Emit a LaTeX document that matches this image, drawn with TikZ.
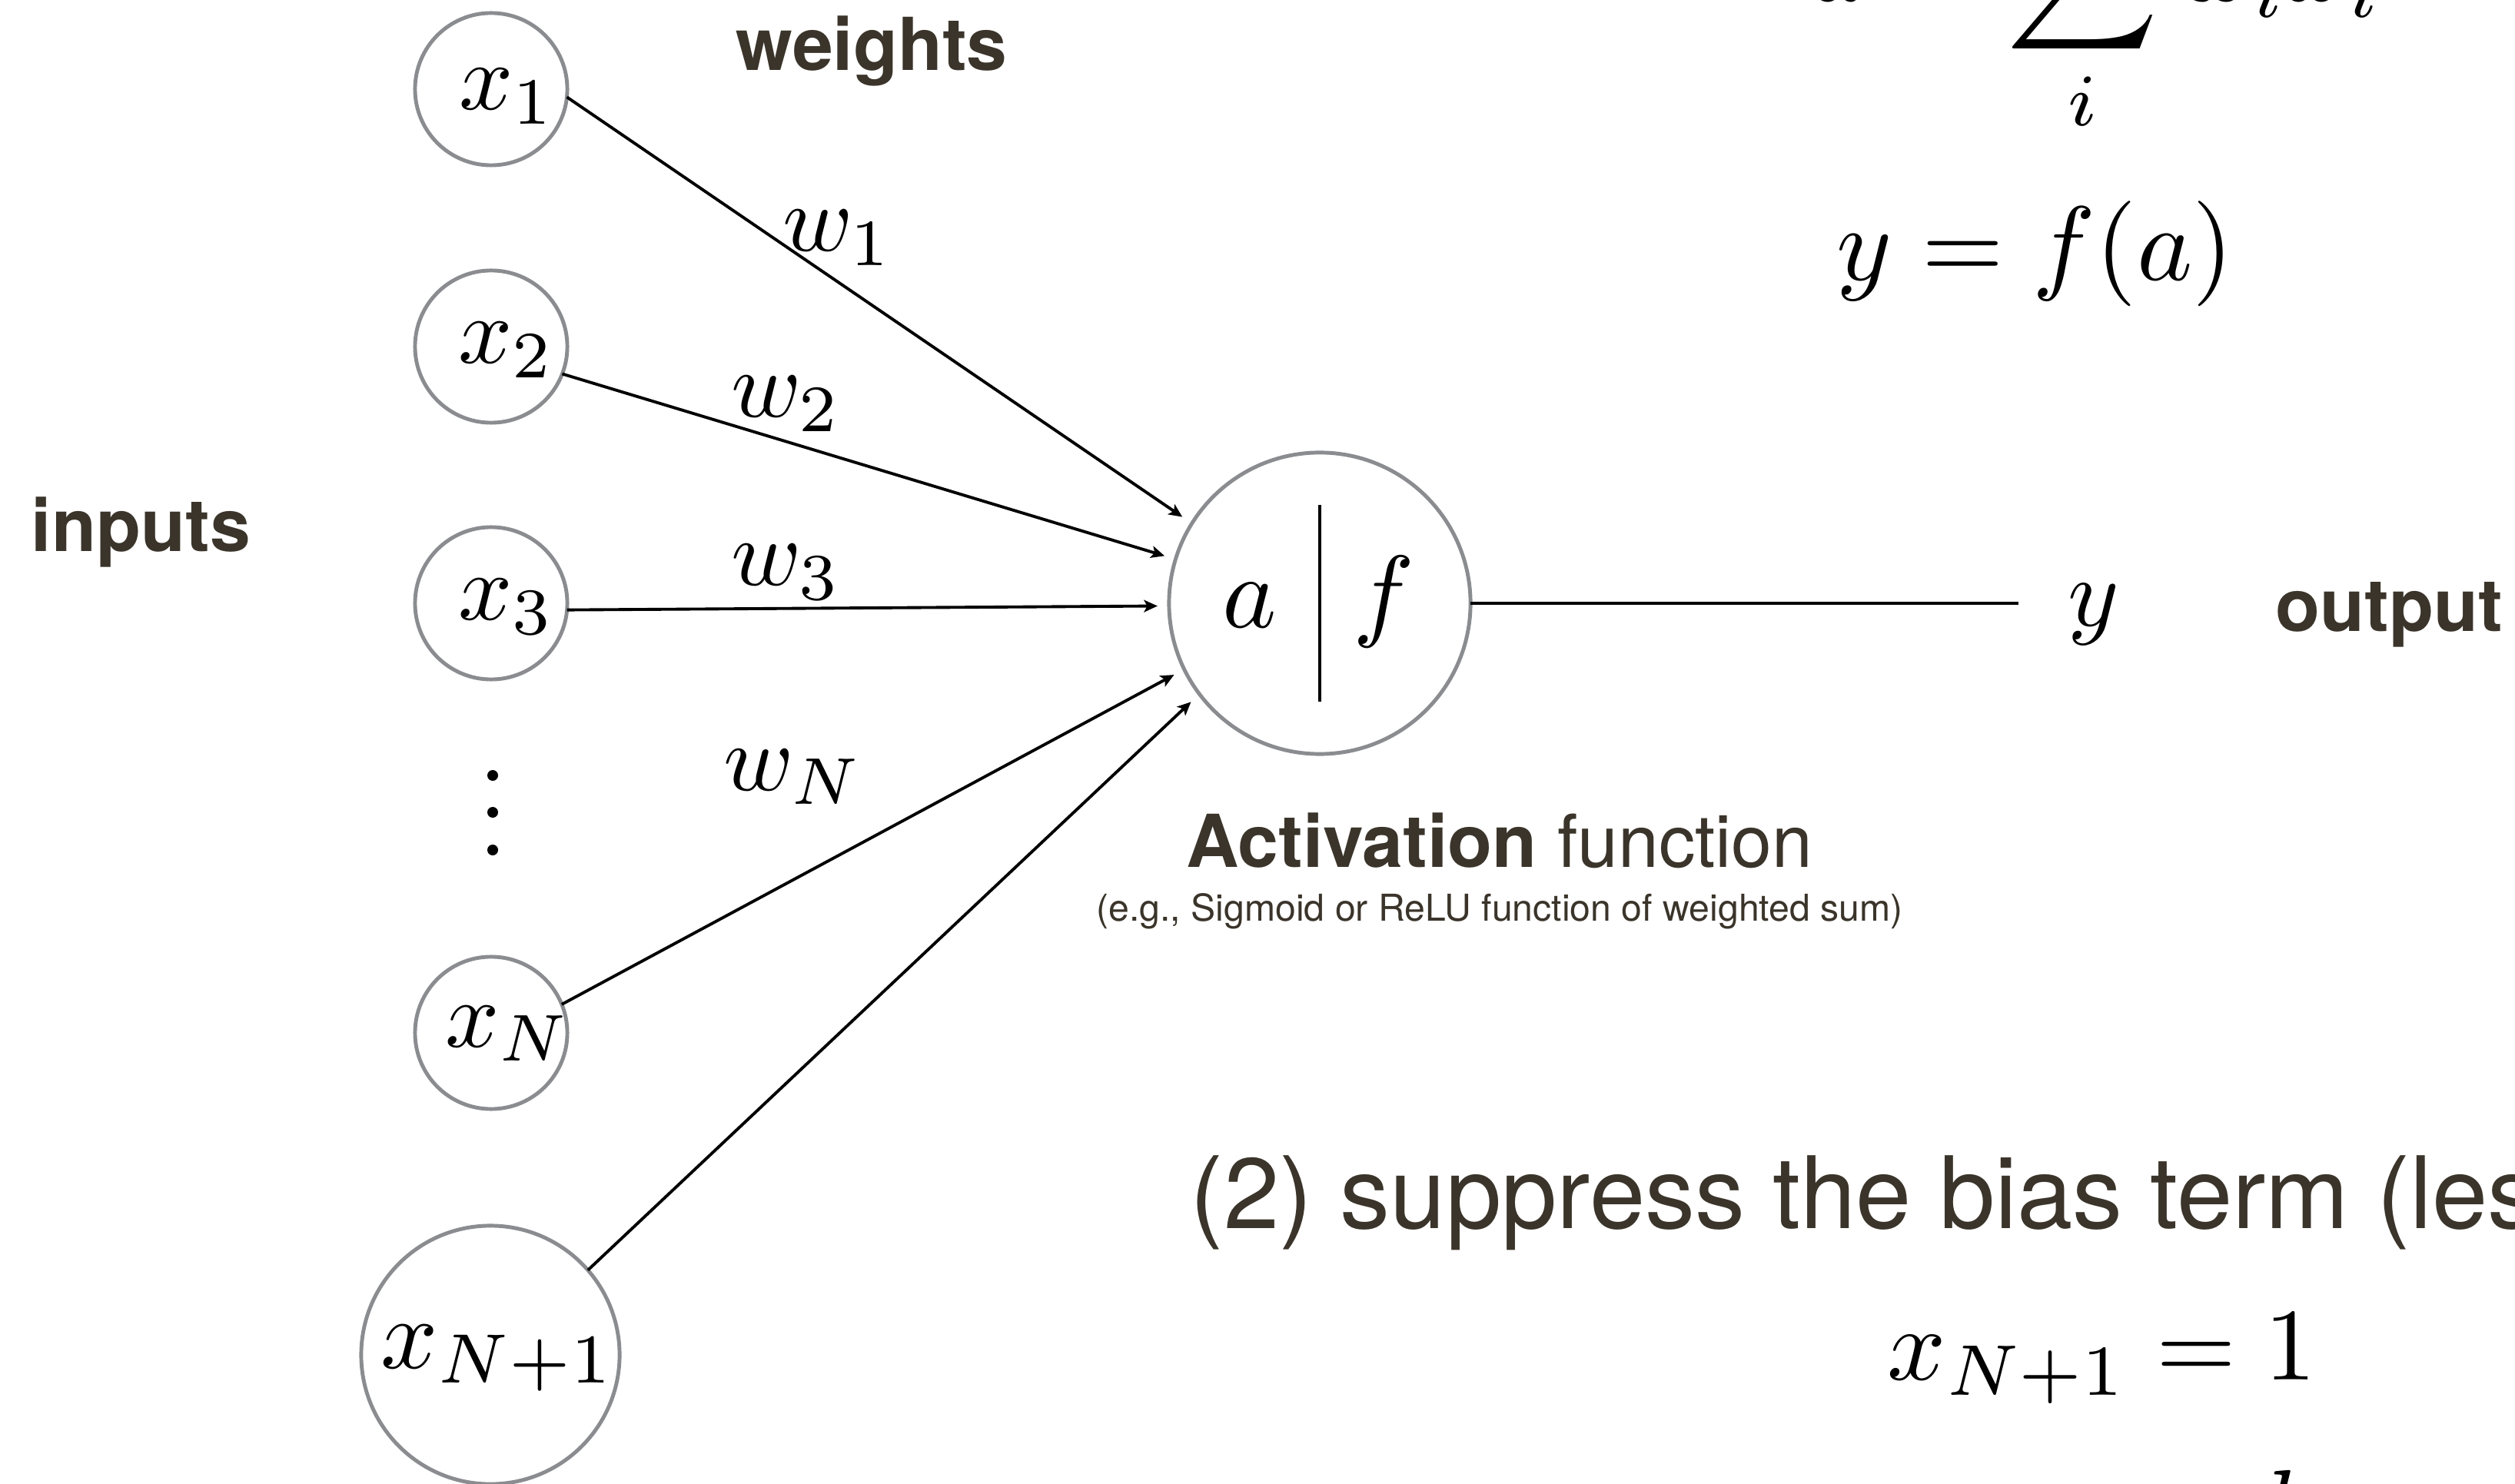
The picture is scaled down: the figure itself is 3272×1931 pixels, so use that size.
\documentclass[tikz,border=0pt]{standalone}
\usepackage{fontspec}
\setsansfont{TeX Gyre Heros}
\usetikzlibrary{arrows.meta}
\definecolor{txt}{RGB}{58,52,42}
\definecolor{ring}{RGB}{138,140,144}
\begin{document}
\begin{tikzpicture}[x=0.01cm,y=-0.01cm,
  inp/.style={circle,draw=ring,line width=1.4pt,inner sep=0pt,outer sep=0pt,minimum size=1.98cm},
  lbl/.style={inner sep=0pt,anchor=base west},
  cen/.style={inner sep=0pt,anchor=base},
  wire/.style={line width=1.1pt,-{Stealth[length=5pt,width=4.5pt,inset=1.2pt]},shorten >=0.15cm},
  head/.style={font=\fontsize{27}{32}\selectfont\sffamily\bfseries,text=txt,inner sep=0pt,anchor=base west},
  dotn/.style={circle,fill=black,inner sep=0pt,minimum size=0.14cm},
  mA/.style={scale=3.5},
  mB/.style={scale=3.9},
]
\useasboundingbox (0,0) rectangle (3272,1931);
\clip (0,0) rectangle (3272,1931);

% input nodes
\node[inp] (x1) at (639,116) {};
\node[inp] (x2) at (639,451) {};
\node[inp] (x3) at (639,785) {};
\node[inp] (xN) at (639,1344) {};
\node[inp,minimum size=3.36cm] (xN1) at (638,1763) {};
\node[inp,minimum size=3.92cm] (neu) at (1717,785) {};

\node[lbl,mA] (lx1) at (595,143) {$x_1$};
\node[lbl,mA] (lx2) at (594,473) {$x_2$};
\node[lbl,mA] (lx3) at (594,807) {$x_3$};
\node[lbl,mA] (lxN) at (577,1362) {$x_N$};
\node[lbl,scale=3.7] (lxN1) at (493,1780) {$x_{N+1}$};

\node[dotn] (d1) at (641,1009) {};
\node[dotn] (d2) at (641,1057) {};
\node[dotn] (d3) at (641,1106) {};

% connectors
\draw[wire] (x1.-6) -- (neu.148.6);
\draw[wire] (x2.-21.6) -- (neu.163.6);
\draw[wire] (x3.-5.7) -- (neu.181.4);
\draw[wire] (xN.22.7) -- (neu.206.9);
\draw[wire] (xN1.41.7) -- (neu.217);

% weights
\node[lbl,mA] (w1) at (1016,327) {$w_1$};
\node[lbl,mA] (w2) at (949,543) {$w_2$};
\node[lbl,mA] (w3) at (949,762) {$w_3$};
\node[lbl,mA] (wN) at (939,1028) {$w_N$};

% neuron interior
\draw[line width=1.1pt] ([yshift=1.28cm]neu.center) -- ([yshift=-1.28cm]neu.center);
\node[cen,scale=3.8] (la) at (1626,817) {$a$};
\node[cen,scale=3.8] (lf) at (1800,817) {$f$};

% output
\coordinate (yend) at (2626,785);
\draw[line width=1.1pt] (neu.east) -- (yend);
\node[lbl,scale=3.6] (yout) at (2688,815) {$y$};

% headings
\node[head] (weights) at (957,92) {weights};
\node[head] (inputs) at (40,718) {inputs};
\node[head] (output) at (2960,822) {output};

\node[cen,text=txt,font=\fontsize{27}{32}\selectfont\sffamily] (act) at (1951,1128) {\textbf{Activation} function};
\node[cen,text=txt,font=\fontsize{13.7}{16}\selectfont\sffamily] (eg) at (1951,1198) {(e.g., Sigmoid or ReLU function of weighted sum)};

\node[lbl,text=txt,font=\fontsize{37}{44}\selectfont\sffamily] (bias) at (1548,1598) {(2) suppress the bias term (less};

% formulas
\node[lbl,mB] (asum) at (2352,2) {$\displaystyle a = \sum_i w_i x_i$};
\node[lbl,mB] (yfa) at (2387,365) {$y = f(a)$};
\node[lbl,scale=3.8] (xone) at (2453,1795) {$x_{N+1} = 1$};
\node[lbl,mB] (bfrag) at (2945,2008) {$b$};
\end{tikzpicture}
\end{document}
